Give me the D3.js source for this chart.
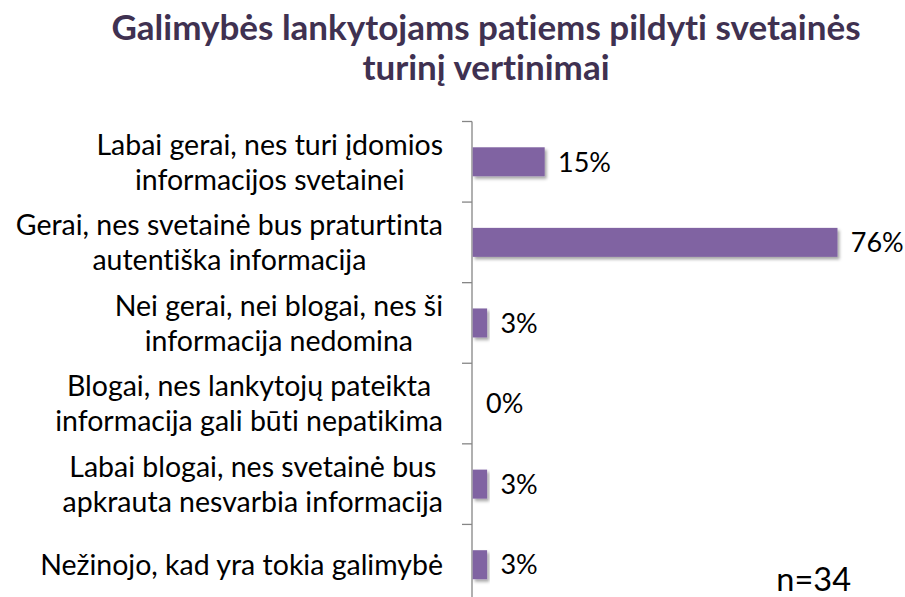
<!DOCTYPE html>
<html>
<head>
<meta charset="utf-8">
<script src="https://cdn.jsdelivr.net/npm/d3@7"></script>
<style>
  html, body { margin: 0; padding: 0; background: #fff; }
  svg { display: block; }
  text { font-variant-ligatures: none; font-feature-settings: "liga" 0, "dlig" 0; }
</style>
</head>
<body>
<svg id="chart" width="905" height="597"></svg>
<script>
// ---- data ----
const titleLines = ["Galimybės lankytojams patiems pildyti svetainės", "turinį vertinimai"];
const categories = [
  ["Labai gerai, nes turi įdomios", "informacijos svetainei"],
  ["Gerai, nes svetainė bus praturtinta", "autentiška informacija"],
  ["Nei gerai, nei blogai, nes ši", "informacija nedomina"],
  ["Blogai, nes lankytojų pateikta", "informacija gali būti nepatikima"],
  ["Labai blogai, nes svetainė bus", "apkrauta nesvarbia informacija"],
  ["Nežinojo, kad yra tokia galimybė"]
];
const values = [15, 76, 3, 0, 3, 3];
const valueLabels = ["15%", "76%", "3%", "0%", "3%", "3%"];
const sampleNote = "n=34";

// ---- layout ----
const svg = d3.select("#chart");
const font = "Lato, 'Open Sans', sans-serif";
const axisX = 472;
const catKeys = categories.map(c => c.join(" "));

const x = d3.scaleLinear().domain([0, 80]).range([axisX, axisX + 80 * 4.8]);
const y = d3.scaleBand().domain(catKeys).range([121.5, 605]).padding(0);
const barH = y.bandwidth() * 0.36;

const defs = svg.append("defs");
const f = defs.append("filter").attr("id", "shadow")
  .attr("x", "-10%").attr("y", "-30%").attr("width", "130%").attr("height", "180%");
f.append("feDropShadow").attr("dx", 2).attr("dy", 2.5).attr("stdDeviation", 1.6)
  .attr("flood-color", "#000").attr("flood-opacity", 0.35);

// title
svg.append("g").selectAll("text").data(titleLines).join("text")
  .attr("x", 486).attr("y", (d, i) => 40 + i * 40)
  .attr("text-anchor", "middle")
  .style("font-family", font).style("font-weight", "bold").style("font-size", "35px")
  .style("fill", "#3F3151")
  .text(d => d);

// axis line + ticks
const axisG = svg.append("g");
axisG.append("line")
  .attr("x1", axisX).attr("x2", axisX)
  .attr("y1", y.range()[0]).attr("y2", y.range()[1])
  .attr("stroke", "#868686").attr("stroke-width", 1.3);
axisG.selectAll("line.tick").data(catKeys.concat(["__end"])).join("line")
  .attr("class", "tick")
  .attr("x1", axisX - 10).attr("x2", axisX)
  .attr("y1", d => d === "__end" ? y.range()[1] : y(d))
  .attr("y2", d => d === "__end" ? y.range()[1] : y(d))
  .attr("stroke", "#868686").attr("stroke-width", 1.3);

// bars
svg.append("g").selectAll("rect").data(values).join("rect")
  .attr("x", x(0) + 0.7)
  .attr("y", (d, i) => y(catKeys[i]) + y.bandwidth() / 2 - barH / 2)
  .attr("width", d => Math.max(0, x(d) - x(0)))
  .attr("height", barH)
  .attr("fill", "#8064A2")
  .attr("filter", d => d > 0 ? "url(#shadow)" : null);

// value labels
svg.append("g").selectAll("text").data(values).join("text")
  .attr("x", d => x(d) + 14)
  .attr("y", (d, i) => y(catKeys[i]) + y.bandwidth() / 2)
  .attr("dy", "0.36em")
  .style("font-family", font).style("font-size", "27px").style("fill", "#000")
  .text((d, i) => valueLabels[i]);

// category labels (centered block, right-aligned to axis)
const labelRight = 443;
const lineGap = 35;
const lg = svg.append("g");
categories.forEach((lines, i) => {
  const cy = y(catKeys[i]) + y.bandwidth() / 2;
  const g = lg.append("g");
  const texts = g.selectAll("text").data(lines).join("text")
    .attr("text-anchor", "middle")
    .attr("y", (d, j) => cy + (j - (lines.length - 1) / 2) * lineGap)
    .attr("dy", "0.36em")
    .style("font-family", font).style("font-size", "28.5px").style("fill", "#000")
    .text(d => d);
  let w = 0;
  texts.each(function() { w = Math.max(w, this.getComputedTextLength()); });
  texts.attr("x", labelRight - w / 2);
});

// sample size note
svg.append("text")
  .attr("x", 851).attr("y", 591)
  .attr("text-anchor", "end")
  .style("font-family", font).style("font-size", "32.5px").style("fill", "#000")
  .text(sampleNote);
</script>
</body>
</html>
